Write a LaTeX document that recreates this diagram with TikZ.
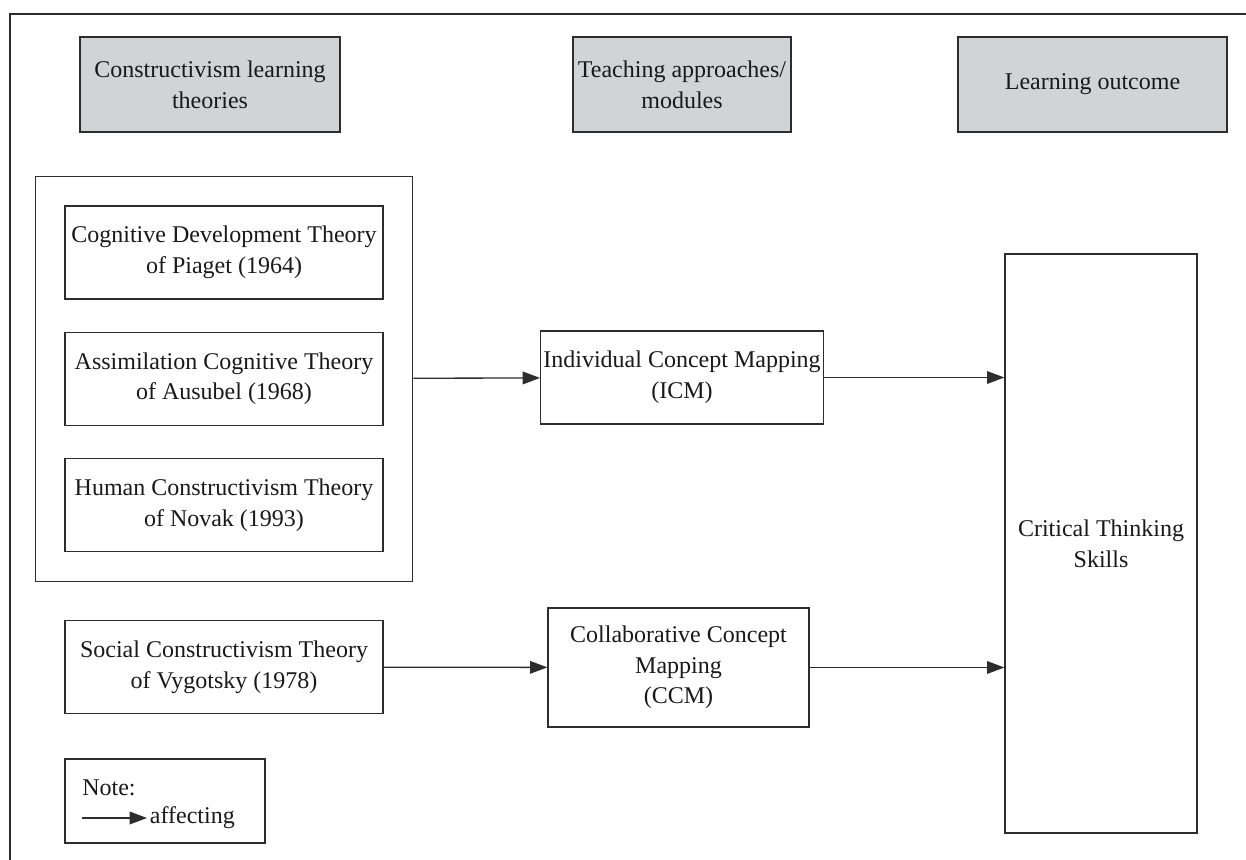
\documentclass[tikz,border=0pt]{standalone}
\usepackage{fontspec}
\setmainfont{Liberation Serif}
\usetikzlibrary{arrows.meta,fit,positioning}
\definecolor{hdrgray}{RGB}{210,211,213}
\definecolor{linegray}{RGB}{45,45,45}

\begin{document}
\begin{tikzpicture}
  [
   x=0.75pt, y=-0.75pt,
   node distance=24pt and 12mm,
   font=\fontsize{18}{23}\selectfont,
   every node/.style={text=black!90},
   hn/.style={rectangle,draw=linegray,line width=1pt,fill=hdrgray,align=center,minimum height=71.25pt,inner sep=0pt},
   tn/.style={rectangle,draw=linegray,line width=1pt,align=center,minimum width=238.5pt,minimum height=69.75pt,inner sep=0pt},
   mn/.style={rectangle,draw=linegray,line width=1pt,align=center,inner sep=0pt},
   arr/.style={-{Triangle[length=13pt,width=9.5pt]},line width=1pt,draw=linegray}
  ]
   \useasboundingbox (0,0) rectangle (1246,860);
   \draw[line width=1pt,draw=linegray] (10,860) -- (10,14) -- (1246,14);

   % headers
   \node[hn,minimum width=195pt] (h1) at (210,84.5) {Constructivism learning\\theories};
   \node[hn,minimum width=163.5pt] (h2) at (682,84.5) {Teaching approaches/\\modules};
   \node[hn,minimum width=201.75pt] (h3) at (1092.5,84.5) {Learning outcome};

   % theories
   \node[tn] (cog) at (224,252.5) {Cognitive Development Theory\\of Piaget (1964)};
   \node[tn] (ass) [below=of cog] {Assimilation Cognitive Theory\\of Ausubel (1968)};
   \node[tn] (hum) [below=of ass] {Human Constructivism Theory\\of Novak (1993)};
   \node[mn,fit=(cog)(hum),inner sep=21.75pt] (grp) {};
   \node[tn] (soc) at (224,667) {Social Constructivism Theory\\of Vygotsky (1978)};

   % approaches
   \node[mn,minimum width=189.75pt,minimum height=69.75pt,inner xsep=2pt] (icm) at (682,377.5) {Individual Concept Mapping\\(ICM)};
   \node[mn,minimum width=195.75pt,minimum height=89.25pt] (ccm) at (678.5,667.5) {Collaborative Concept\\Mapping\\(CCM)};

   % outcome
   \node[mn,minimum width=144pt,minimum height=434.25pt] (crit) at (1101,543.5) {Critical Thinking\\Skills};

   \draw[arr] (grp) -- (icm);
   \draw[arr] (soc) -- (ccm);
   \draw[arr] (icm.east) -- (icm.east -| crit.west);
   \draw[arr] (ccm.east) -- (ccm.east -| crit.west);

   % note
   \node[mn,minimum width=150pt,minimum height=63pt] (note) at (165,801) {};
   \node[anchor=west,inner sep=0pt] (notetxt) at (82,788) {Note:};
   \node[anchor=west,inner sep=2pt] (aff) at (147,818) {affecting};
   \coordinate (keyl) at (82,818);
   \draw[arr] (keyl) -- (aff);

\end{tikzpicture}
\end{document}
